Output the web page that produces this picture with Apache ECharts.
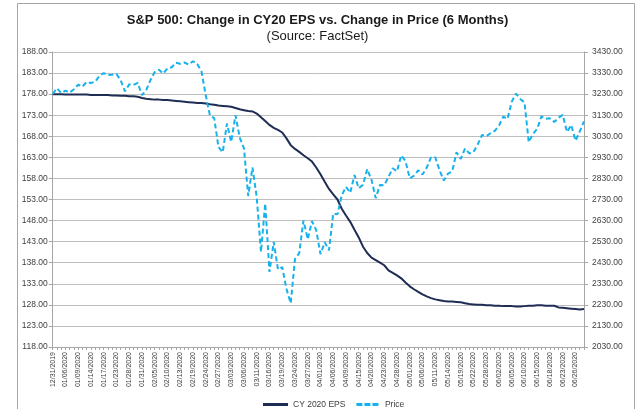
<!DOCTYPE html>
<html>
<head>
<meta charset="utf-8">
<script src="https://cdn.jsdelivr.net/npm/echarts@6/dist/echarts.min.js"></script>
<style>
html,body{margin:0;padding:0;background:#fff;}
#c{width:635px;height:409px;}
</style>
</head>
<body>
<div id="c"></div>
<script>
const dates = [
"12/31/2019","01/02/2020","01/03/2020","01/06/2020","01/07/2020","01/08/2020","01/09/2020","01/10/2020","01/13/2020","01/14/2020",
"01/15/2020","01/16/2020","01/17/2020","01/21/2020","01/22/2020","01/23/2020","01/24/2020","01/27/2020","01/28/2020","01/29/2020",
"01/30/2020","01/31/2020","02/03/2020","02/04/2020","02/05/2020","02/06/2020","02/07/2020","02/10/2020","02/11/2020","02/12/2020",
"02/13/2020","02/14/2020","02/18/2020","02/19/2020","02/20/2020","02/21/2020","02/24/2020","02/25/2020","02/26/2020","02/27/2020",
"02/28/2020","03/02/2020","03/03/2020","03/04/2020","03/05/2020","03/06/2020","03/09/2020","03/10/2020","03/11/2020","03/12/2020",
"03/13/2020","03/16/2020","03/17/2020","03/18/2020","03/19/2020","03/20/2020","03/23/2020","03/24/2020","03/25/2020","03/26/2020",
"03/27/2020","03/30/2020","03/31/2020","04/01/2020","04/02/2020","04/03/2020","04/06/2020","04/07/2020","04/08/2020","04/09/2020",
"04/13/2020","04/14/2020","04/15/2020","04/16/2020","04/17/2020","04/20/2020","04/21/2020","04/22/2020","04/23/2020","04/24/2020",
"04/27/2020","04/28/2020","04/29/2020","04/30/2020","05/01/2020","05/04/2020","05/05/2020","05/06/2020","05/07/2020","05/08/2020",
"05/11/2020","05/12/2020","05/13/2020","05/14/2020","05/15/2020","05/18/2020","05/19/2020","05/20/2020","05/21/2020","05/22/2020",
"05/26/2020","05/27/2020","05/28/2020","05/29/2020","06/01/2020","06/02/2020","06/03/2020","06/04/2020","06/05/2020","06/08/2020",
"06/09/2020","06/10/2020","06/11/2020","06/12/2020","06/15/2020","06/16/2020","06/17/2020","06/18/2020","06/19/2020","06/22/2020",
"06/23/2020","06/24/2020","06/25/2020","06/26/2020","06/29/2020","06/30/2020"
];

const epsCY2020 = [
178.0,178.0,178.0,177.9,177.9,177.9,177.9,177.9,177.9,177.8,
177.8,177.8,177.8,177.8,177.7,177.7,177.6,177.6,177.5,177.5,
177.4,177.1,176.9,176.8,176.7,176.7,176.6,176.6,176.5,176.4,
176.3,176.2,176.1,176.0,175.9,175.9,175.8,175.6,175.5,175.3,
175.2,175.1,175.0,174.7,174.4,174.2,174.0,173.9,173.4,172.5,
171.6,170.7,170.0,169.5,168.9,167.5,165.9,165.0,164.3,163.5,
162.8,162.0,160.6,159.0,157.2,155.5,154.2,153.0,150.8,149.2,
147.7,145.8,144.0,141.8,140.3,139.2,138.6,138.0,137.4,136.2,
135.6,135.0,134.3,133.3,132.4,131.7,131.1,130.5,130.0,129.6,
129.3,129.1,128.9,128.8,128.8,128.7,128.6,128.4,128.2,128.1,
128.0,128.0,127.9,127.9,127.8,127.8,127.7,127.7,127.7,127.6,
127.6,127.7,127.8,127.8,127.9,127.9,127.8,127.8,127.8,127.4,
127.3,127.2,127.1,127.0,126.9,127.0
];

const price = [
3230.78,3257.85,3234.85,3246.28,3237.18,3253.05,3274.70,3265.35,3288.13,3283.15,
3289.29,3316.81,3329.62,3320.79,3321.75,3325.54,3295.47,3243.63,3276.24,3273.40,
3283.66,3225.52,3248.92,3297.59,3334.69,3345.78,3327.71,3352.09,3357.75,3379.45,
3373.94,3380.16,3370.29,3386.15,3373.23,3337.75,3225.89,3128.21,3116.39,2978.76,
2954.22,3090.23,3003.37,3130.12,3023.94,2972.37,2746.56,2882.23,2741.38,2480.64,
2711.02,2386.13,2529.19,2398.10,2409.39,2304.92,2237.40,2447.33,2475.56,2630.07,
2541.47,2626.65,2584.59,2470.50,2526.90,2488.65,2663.68,2659.41,2749.98,2789.82,
2761.63,2846.06,2783.36,2799.55,2874.56,2823.16,2736.56,2799.31,2797.80,2836.74,
2878.48,2863.39,2939.51,2912.43,2830.71,2842.74,2868.44,2848.42,2881.19,2929.80,
2930.32,2870.12,2820.00,2852.50,2863.70,2953.91,2922.94,2971.61,2948.51,2955.45,
2991.77,3036.13,3029.73,3044.31,3055.73,3080.82,3122.87,3112.35,3193.93,3232.39,
3207.18,3190.14,3002.10,3041.31,3066.59,3124.74,3113.49,3115.34,3097.74,3117.86,
3131.29,3050.33,3083.76,3009.05,3053.24,3100.29
];

const seriesNames = ["CY 2020 EPS", "Price"];
const titleText = "S&P 500: Change in CY20 EPS vs. Change in Price (6 Months)";
const subTitleText = "(Source: FactSet)";

const chart = echarts.init(document.getElementById('c'), null, {renderer: 'canvas'});
const font = 'Arial, "Liberation Sans", sans-serif';
const axisGray = '#a6a6a6';
const gridGray = '#bdbdbd';
const labelColor = '#404040';
const epsColor = '#1f2c54';
const priceColor = '#17b1ec';

chart.setOption({
  animation: false,
  backgroundColor: '#ffffff',
  graphic: [{
    type: 'rect', left: 15, top: 1, silent: true,
    shape: {width: 617, height: 440},
    style: {fill: 'none', stroke: '#a6a6a6', lineWidth: 1}
  }],
  title: {
    text: titleText,
    subtext: subTitleText,
    left: 'center',
    top: 9,
    itemGap: 3,
    textStyle: {fontFamily: font, fontSize: 13, fontWeight: 'bold', color: '#1a1a1a'},
    subtextStyle: {fontFamily: font, fontSize: 13, color: '#1a1a1a'}
  },
  legend: {
    data: [
      {name: seriesNames[0], icon: 'rect', itemStyle: {color: epsColor}},
      {name: seriesNames[1], icon: 'path://M0,0h6v3h-6z M8,0h6v3h-6z M16,0h6v3h-6z', itemStyle: {color: priceColor}}
    ],
    left: 258,
    top: 395,
    itemWidth: 25,
    itemHeight: 3,
    itemGap: 11,
    textStyle: {fontFamily: font, fontSize: 8.5, color: labelColor}
  },
  grid: {left: 52.7, right: 51, top: 52, bottom: 62, containLabel: false},
  xAxis: {
    type: 'category',
    data: dates,
    boundaryGap: false,
    axisLine: {lineStyle: {color: axisGray, width: 1}},
    axisTick: {show: true, interval: 0, length: 3, lineStyle: {color: axisGray}},
    axisLabel: {interval: 2, rotate: 90, fontSize: 7, fontFamily: font, color: labelColor, margin: 5},
    splitLine: {show: false}
  },
  yAxis: [{
    type: 'value', min: 118, max: 188, interval: 5, position: 'left',
    axisLine: {show: true, lineStyle: {color: axisGray}},
    axisTick: {show: true, length: 4, lineStyle: {color: axisGray}},
    axisLabel: {fontSize: 8.5, fontFamily: font, color: labelColor, margin: 5,
      formatter: v => v.toFixed(2)},
    splitLine: {show: true, lineStyle: {color: gridGray, width: 1}}
  }, {
    type: 'value', min: 2030, max: 3430, interval: 100, position: 'right',
    axisLine: {show: true, lineStyle: {color: axisGray}},
    axisTick: {show: true, length: 4, lineStyle: {color: axisGray}},
    axisLabel: {fontSize: 8.5, fontFamily: font, color: labelColor, margin: 8,
      formatter: v => v.toFixed(2)},
    splitLine: {show: false}
  }],
  series: [{
    name: seriesNames[0],
    type: 'line',
    yAxisIndex: 0,
    data: epsCY2020,
    symbol: 'none',
    lineStyle: {color: epsColor, width: 2},
    itemStyle: {color: epsColor}
  }, {
    name: seriesNames[1],
    type: 'line',
    yAxisIndex: 1,
    data: price,
    symbol: 'none',
    lineStyle: {color: priceColor, width: 2, type: [5, 3]},
    itemStyle: {color: priceColor}
  }]
});
</script>
</body>
</html>
